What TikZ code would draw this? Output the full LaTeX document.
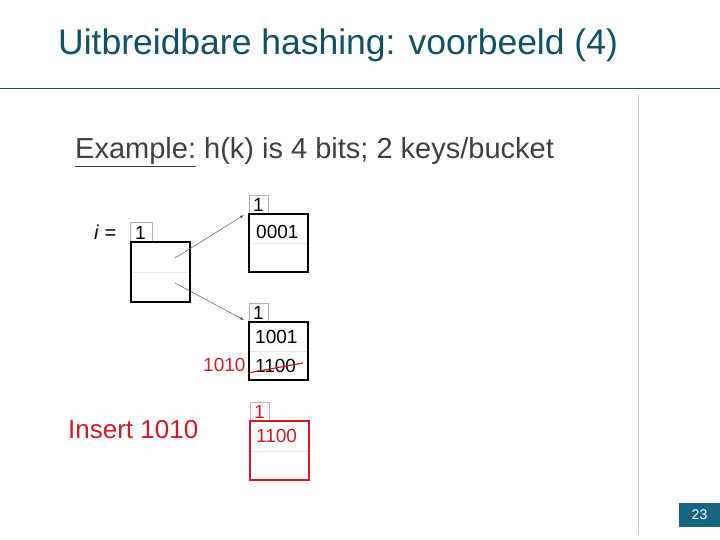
\documentclass[tikz,border=0pt]{standalone}
\usepackage{fontspec}
\setmainfont{Liberation Sans}
\usetikzlibrary{arrows.meta}
\definecolor{teal1}{RGB}{20,80,100}
\definecolor{tealbox}{RGB}{25,100,130}
\definecolor{red1}{RGB}{200,30,40}
\begin{document}
\begin{tikzpicture}[x=1pt,y=-1pt,
  bx/.style={draw=black,line width=1.2pt},
  lbl/.style={draw=gray!60,line width=0.8pt},
  dv/.style={draw=gray!20,line width=0.8pt},
  rbx/.style={draw=red1,line width=1.2pt},
  rlbl/.style={draw=red1!40,line width=0.8pt},
  tx/.style={inner sep=0pt,anchor=west,font=\fontsize{19}{19}\selectfont},
  ptr/.style={draw=gray!70!black,line width=0.5pt,-{Latex[length=4pt,width=3pt]}}]
\useasboundingbox (0,0) rectangle (720,540);
\node[anchor=west,inner sep=0pt,text=teal1,font=\fontsize{35.5}{35.5}\selectfont] (title) at (58,45) {Uitbreidbare hashing: voorbeeld (4)};
\draw[teal1,line width=0.8pt] (0,88) -- (720,88);
\draw[gray!40,line width=1pt] (638,95) -- (638,535);
\node[fill=tealbox,minimum width=41pt,minimum height=24pt,inner sep=0pt,text=white,font=\fontsize{14}{14}\selectfont] (pg) at (699.5,515) {23};
\node[anchor=west,inner sep=0pt,text=black!75,font=\fontsize{29}{29}\selectfont] (ex) at (75,152) {\underline{Example:} h(k) is 4 bits; 2 keys/bucket};
% directory
\node[tx,font=\fontsize{20}{20}\selectfont] (ieq) at (94,232) {\textit{i} =};
\draw[lbl] (130,222) rectangle (152,242);
\node[tx] (d1) at (135,233) {1};
\draw[dv] (131,272) -- (190,272);
\draw[bx] (131,242) rectangle (190,302);
\coordinate (p1) at (175,258);
\coordinate (p2) at (175,283);
% bucket 1
\draw[lbl] (249,195) rectangle (268,214);
\node[tx] (b1l) at (253,205) {1};
\draw[dv] (249,243) -- (308,243);
\draw[bx] (249,214) rectangle (308,272);
\node[tx] (b1a) at (256,232) {0001};
\coordinate (t1) at (244,215);
% bucket 2
\draw[lbl] (249,303) rectangle (268,322);
\node[tx] (b2l) at (253,313) {1};
\draw[dv] (249,351) -- (308,351);
\draw[bx] (249,322) rectangle (308,380);
\node[tx] (b2a) at (255,337) {1001};
\node[tx] (b2b) at (255,366) {1100};
\coordinate (t2) at (244,320);
\draw[ptr] (p1) -- (t1);
\draw[ptr] (p2) -- (t2);
\node[tx,text=red1] (ins) at (203,365) {1010};
\draw[red1,line width=1.2pt] (248,373) -- (303,363);
% red bucket
\draw[rlbl] (250,402) rectangle (269,421);
\node[tx,text=red1] (b3l) at (254,412) {1};
\draw[dv] (250,451) -- (309,451);
\draw[rbx] (250,421) rectangle (309,480);
\node[tx,text=red1] (b3a) at (256,436) {1100};
\node[tx,text=red1,font=\fontsize{26}{26}\selectfont] (insert) at (68,430) {Insert 1010};
\end{tikzpicture}
\end{document}
